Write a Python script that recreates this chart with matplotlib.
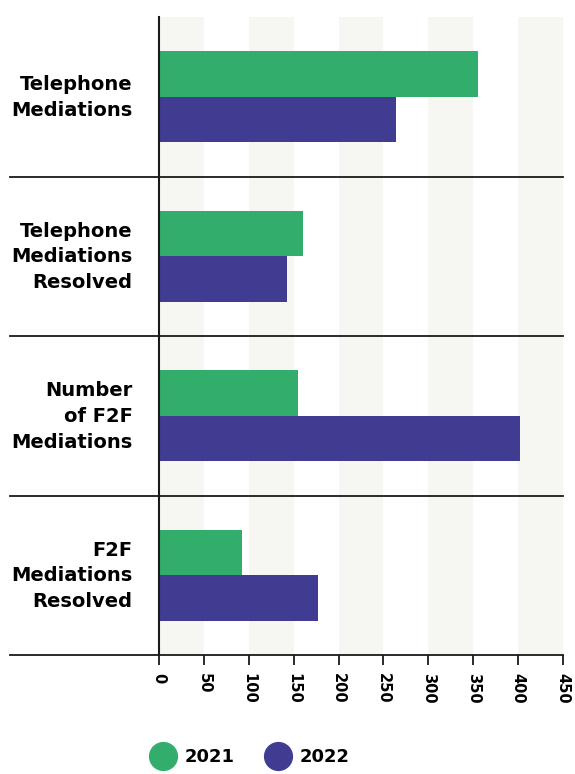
import matplotlib.pyplot as plt
from matplotlib.lines import Line2D
import numpy as np

categories = ['Telephone\nMediations', 'Telephone\nMediations\nResolved',
              'Number\nof F2F\nMediations', 'F2F\nMediations\nResolved']
vals_2021 = [355, 160, 155, 93]
vals_2022 = [264, 143, 402, 177]
series = ['2021', '2022']
xticks = [0, 50, 100, 150, 200, 250, 300, 350, 400, 450]

green = '#33ad6b'
purple = '#3f3c91'
band = '#f6f7f2'

plt.rcParams['font.family'] = ['DejaVu Sans']

fig = plt.figure(figsize=(5.75, 7.74), dpi=100)
ax = fig.add_axes([159 / 575, 1 - 655 / 774, 404 / 575, 638 / 774])

y = np.arange(len(categories))
h = 0.285
ax.barh(y - h / 2, vals_2021, height=h, color=green, zorder=3)
ax.barh(y + h / 2, vals_2022, height=h, color=purple, zorder=3)

# alternating background bands
for lo in xticks[::2]:
    ax.axvspan(lo, lo + 50, color=band, zorder=0, lw=0)

ax.set_xlim(0, 450)
ax.set_ylim(len(categories) - 0.5, -0.5)

# group separators extend into the label area
for sep in np.arange(0.5, len(categories), 1.0):
    ax.plot([-0.37, 1.0], [sep, sep], transform=ax.get_yaxis_transform(),
            color='#1a1a1a', lw=1.3, clip_on=False, zorder=4)

for s in ['top', 'right']:
    ax.spines[s].set_visible(False)
ax.spines['left'].set_color('#1a1a1a')
ax.spines['left'].set_linewidth(1.5)
ax.spines['left'].set_zorder(5)
ax.spines['bottom'].set_visible(False)

ax.set_yticks(y - 0.03)
ax.set_yticklabels(categories, fontsize=14, fontweight='bold', linespacing=1.45,
                   ha='right')
ax.tick_params(axis='y', length=0, pad=19)

ax.set_xticks(xticks)
ax.set_xticklabels([str(t) for t in xticks], rotation=-90, fontsize=10.5,
                   fontweight='bold')
ax.tick_params(axis='x', length=7, width=1.3, color='#1a1a1a', pad=6)

handles = [Line2D([], [], marker='o', ls='', markersize=20, color=green),
           Line2D([], [], marker='o', ls='', markersize=20, color=purple)]
fig.legend(handles, series, loc='center', bbox_to_anchor=(0.43, 0.022), ncol=2,
           frameon=False, prop={'size': 13, 'weight': 'bold'},
           handletextpad=0.2, columnspacing=1.4)

fig.savefig('out.png', dpi=100)
